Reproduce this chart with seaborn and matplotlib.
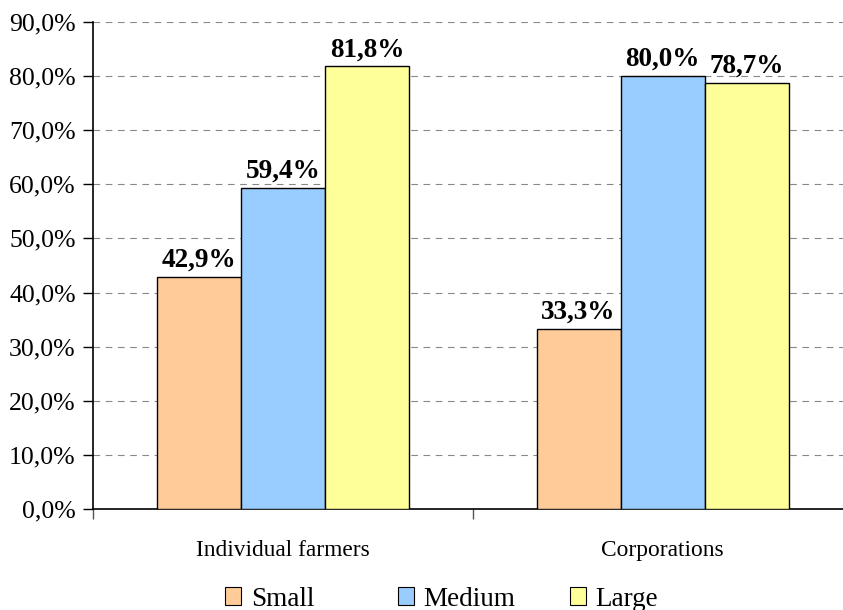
import pandas as pd
import numpy as np
import matplotlib
matplotlib.use('Agg')
import matplotlib.pyplot as plt
import seaborn as sns

# Chart data
GROUPS = ['Individual farmers', 'Corporations']
SIZES = ['Small', 'Medium', 'Large']
SMALL = [42.9, 33.3]
MEDIUM = [59.4, 80.0]
LARGE = [81.8, 78.7]
COLORS = ['#FFCC99', '#99CCFF', '#FFFF99']
Y_TICKS = np.arange(0, 100, 10)

DPI = 100
LEGEND_X = [225, 398, 570]

df = pd.DataFrame({
    'GROUP': GROUPS * 3,
    'SIZE': [s for s in SIZES for _ in GROUPS],
    'VALUE': SMALL + MEDIUM + LARGE,
})

sns.set_style('white')
plt.rcParams['font.family'] = ['Liberation Serif', 'DejaVu Serif']
plt.rcParams['text.color'] = 'black'
plt.rcParams['xtick.labelcolor'] = 'black'
plt.rcParams['ytick.labelcolor'] = 'black'

f = plt.figure(figsize=(843 / DPI, 610 / DPI), dpi=DPI)
ax = f.add_axes([93 / 843, 101 / 610, 750 / 843, 487 / 610])

sns.barplot(
    data=df, x='GROUP', y='VALUE', hue='SIZE',
    order=GROUPS, hue_order=SIZES, palette=COLORS, saturation=1,
    width=0.664, gap=0, edgecolor='black', linewidth=1,
    ax=ax, zorder=3)

for container in ax.containers:
    ax.bar_label(
        container,
        labels=[f"{v:.1f}%".replace('.', ',') for v in container.datavalues],
        padding=3, fontsize=19.5, fontweight='bold', color='black')

ax.set_yticks(Y_TICKS)
ax.set_yticklabels([f"{v:.1f}%".replace('.', ',') for v in Y_TICKS], fontsize=18.5)
ax.set_xticks([-0.5, 0.5, 1.5])
ax.set_xticklabels([])
ax.set_xticks([0, 1], minor=True)
ax.set_xticklabels(GROUPS, minor=True, fontsize=16.8)
ax.set_ylim(0, 90)
ax.set_xlim(-0.5, 1.475)
ax.tick_params(axis='x', which='minor', length=0, pad=22, labelcolor='black')
ax.tick_params(axis='x', which='major', length=7, width=1, color='#555555', direction='out', bottom=True)
ax.tick_params(axis='y', length=7, width=1, color='black', direction='out', left=True, pad=5.5, labelcolor='black')
ax.set_xlabel('')
ax.set_ylabel('')

for y in Y_TICKS[1:]:
    ax.axhline(y, color='#888888', linestyle=(0, (6, 5)), linewidth=0.8, zorder=1)

ax.spines['top'].set_visible(False)
ax.spines['right'].set_visible(False)
ax.spines['left'].set_color('black')
ax.spines['bottom'].set_color('black')
ax.spines['left'].set_linewidth(1.2)
ax.spines['bottom'].set_linewidth(1.2)

ax.get_legend().remove()
for name, color, lx in zip(SIZES, COLORS, LEGEND_X):
    handle = plt.Rectangle((0, 0), 1, 1, facecolor=color, edgecolor='black', linewidth=0.8)
    f.legend(
        [handle], [name], loc='center left', bbox_to_anchor=(lx / 843, 11 / 610),
        frameon=False, fontsize=19.5, handlelength=0.6, handleheight=0.6,
        handletextpad=0.35, borderpad=0, borderaxespad=0, labelcolor='black')

f.savefig('out.png', dpi=DPI)
plt.close(f)
